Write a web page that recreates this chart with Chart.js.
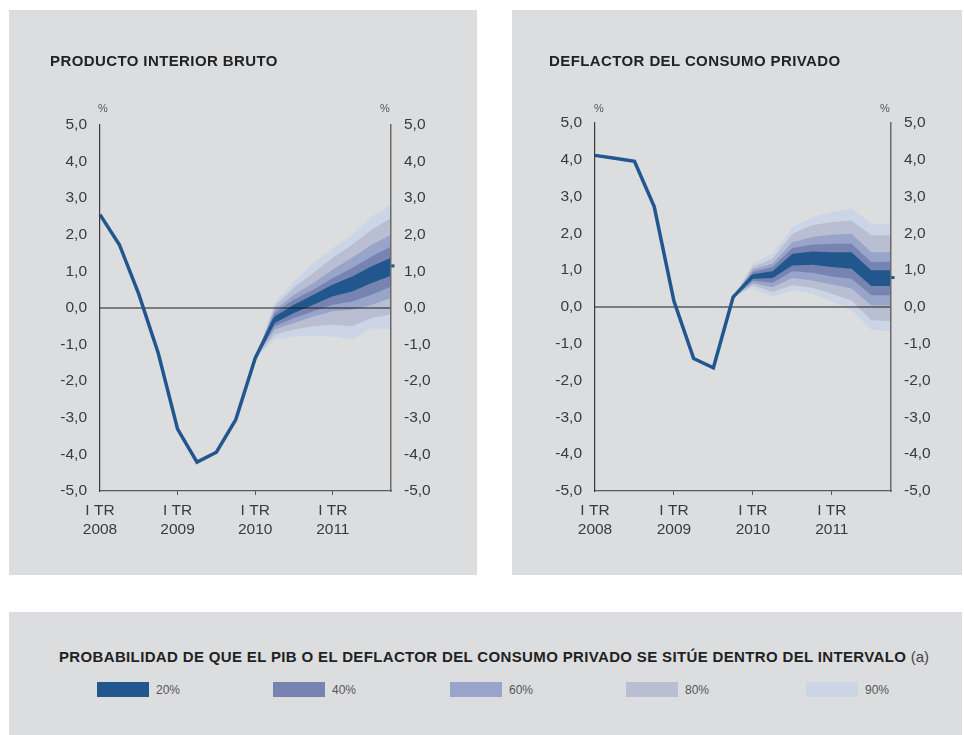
<!DOCTYPE html>
<html><head><meta charset="utf-8">
<script src="https://cdn.jsdelivr.net/npm/chart.js@4.4.1/dist/chart.umd.min.js"></script>
<style>
body{margin:0;background:#fff;width:964px;height:735px;position:relative;overflow:hidden;font-family:"Liberation Sans",Arial,sans-serif;}
.panel{position:absolute;background:#dcdddf;}
.title{position:absolute;font-size:15px;font-weight:bold;letter-spacing:0.4px;color:#222;white-space:nowrap;}
.pct{position:absolute;font-size:11px;color:#555;}
.panel canvas{position:absolute;left:0;top:0;}
.sw{position:absolute;width:52px;height:15px;}
.lab{position:absolute;font-size:12px;color:#555;}
</style></head>
<body>
<div class="panel" id="p1" style="left:9px;top:10px;width:468px;height:565px;">
  <canvas id="c1" width="468" height="565"></canvas>
  <div class="title" style="left:41px;top:42px;">PRODUCTO INTERIOR BRUTO</div>
  <div class="pct" style="left:89px;top:92px;">%</div>
  <div class="pct" style="left:371px;top:92px;">%</div>
</div>
<div class="panel" id="p2" style="left:512px;top:10px;width:450px;height:565px;">
  <canvas id="c2" width="450" height="565"></canvas>
  <div class="title" style="left:37px;top:42px;">DEFLACTOR DEL CONSUMO PRIVADO</div>
  <div class="pct" style="left:82px;top:92px;">%</div>
  <div class="pct" style="left:368px;top:92px;">%</div>
</div>
<div class="panel" style="left:9px;top:612px;width:953px;height:123px;">
  <div class="title" style="left:50px;top:36px;font-size:15px;letter-spacing:0.35px;">PROBABILIDAD DE QUE EL PIB O EL DEFLACTOR DEL CONSUMO PRIVADO SE SITÚE DENTRO DEL INTERVALO <span style="color:#444;font-weight:normal;letter-spacing:0">(a)</span></div>
  <div id="legend"></div>
</div>
<script>
// ---- categories / ticks ----
const xLabels = [['I TR','2008'],'','','',['I TR','2009'],'','','',['I TR','2010'],'','','',['I TR','2011'],'','',''];
const yTickLabels = ['-5,0','-4,0','-3,0','-2,0','-1,0','0,0','1,0','2,0','3,0','4,0','5,0'];
const bandNames = ['20%','40%','60%','80%','90%'];
const bandColors = ['#22578d','#7784b2','#98a4c9','#b9bed3','#ccd5e6'];
const lineColor = '#21578e';
const zeroRef = [0,0,0,0,0,0,0,0,0,0,0,0,0,0,0,0];

// ---- PIB ----
const N = null;
const pibHist = [2.55,1.73,0.38,-1.23,-3.31,-4.21,-3.94,-3.05,-1.37,-0.30,N,N,N,N,N,N];
const pibUp90 = [N,N,N,N,N,N,N,N,-1.37,0.14,0.73,1.23,1.64,2.00,2.50,2.82];
const pibUp80 = [N,N,N,N,N,N,N,N,-1.37,0.05,0.55,0.96,1.37,1.73,2.14,2.46];
const pibUp60 = [N,N,N,N,N,N,N,N,-1.37,-0.05,0.36,0.68,1.05,1.37,1.73,2.00];
const pibUp40 = [N,N,N,N,N,N,N,N,-1.37,-0.14,0.23,0.50,0.82,1.09,1.41,1.68];
const pibUp20 = [N,N,N,N,N,N,N,N,-1.37,-0.23,0.09,0.36,0.64,0.86,1.14,1.37];
const pibLo20 = [N,N,N,N,N,N,N,N,-1.37,-0.41,-0.14,0.09,0.32,0.45,0.68,0.88];
const pibLo40 = [N,N,N,N,N,N,N,N,-1.37,-0.50,-0.27,-0.09,0.09,0.18,0.36,0.59];
const pibLo60 = [N,N,N,N,N,N,N,N,-1.37,-0.59,-0.41,-0.23,-0.09,-0.05,0.09,0.27];
const pibLo80 = [N,N,N,N,N,N,N,N,-1.37,-0.73,-0.59,-0.50,-0.46,-0.50,-0.27,-0.18];
const pibLo90 = [N,N,N,N,N,N,N,N,-1.37,-0.87,-0.78,-0.78,-0.78,-0.87,-0.55,-0.59];
const pibEnd = [N,N,N,N,N,N,N,N,N,N,N,N,N,N,N,1.15];

// ---- Deflactor ----
const defHist = [4.12,4.04,3.96,2.73,0.16,-1.40,-1.65,0.27,0.84,N,N,N,N,N,N,N];
const defUp90 = [N,N,N,N,N,N,N,0.27,1.18,1.45,2.17,2.44,2.58,2.67,2.26,2.26];
const defUp80 = [N,N,N,N,N,N,N,0.27,1.09,1.31,1.99,2.22,2.31,2.35,1.95,1.95];
const defUp60 = [N,N,N,N,N,N,N,0.27,1.02,1.18,1.76,1.90,1.96,1.99,1.49,1.49];
const defUp40 = [N,N,N,N,N,N,N,0.27,0.95,1.09,1.60,1.69,1.72,1.72,1.22,1.23];
const defUp20 = [N,N,N,N,N,N,N,0.27,0.89,0.97,1.45,1.51,1.49,1.49,1.00,1.00];
const defLo20 = [N,N,N,N,N,N,N,0.27,0.77,0.79,1.13,1.15,1.09,1.04,0.57,0.57];
const defLo40 = [N,N,N,N,N,N,N,0.27,0.71,0.66,0.97,0.93,0.83,0.77,0.32,0.32];
const defLo60 = [N,N,N,N,N,N,N,0.27,0.65,0.54,0.79,0.72,0.61,0.50,0.05,0.05];
const defLo80 = [N,N,N,N,N,N,N,0.27,0.59,0.41,0.59,0.52,0.36,0.18,-0.36,-0.38];
const defLo90 = [N,N,N,N,N,N,N,0.27,0.50,0.27,0.45,0.36,0.15,-0.09,-0.63,-0.66];
const defEnd = [N,N,N,N,N,N,N,N,N,N,N,N,N,N,N,0.80];

function buildDatasets(hist, ups, los, endVals){
  const ds = [];
  ds.push({data: hist, borderColor: lineColor, borderWidth: 3.5, pointRadius: 0, fill: false, order: 0, borderJoinStyle: 'miter', tension: 0});
  ds.push({data: endVals, borderColor: lineColor, backgroundColor: lineColor, borderWidth: 3, pointStyle: 'line', pointRadius: 3.5, showLine: false, order: 0, clip: false});
  ds.push({data: zeroRef, borderColor: '#1a1a1a', borderWidth: 1, pointRadius: 0, fill: false, order: 0.5});
  for (let k = 0; k < ups.length; k++){
    const upIdx = ds.length;
    ds.push({data: ups[k], borderWidth: 0, borderColor: 'rgba(0,0,0,0)', pointRadius: 0, backgroundColor: bandColors[k], fill: upIdx + 1, order: k + 1, tension: 0});
    ds.push({data: los[k], borderWidth: 0, borderColor: 'rgba(0,0,0,0)', pointRadius: 0, fill: false, order: k + 1, tension: 0});
  }
  return ds;
}

function makeChart(id, datasets, dims){
  const tickFont = {family: '"Liberation Sans", Arial, sans-serif', size: 15.5};
  new Chart(document.getElementById(id), {
    type: 'line',
    data: {labels: xLabels, datasets: datasets},
    options: {
      responsive: false, animation: false,
      layout: {padding: {top: dims.top, left: 0, right: 0, bottom: 0}},
      plugins: {legend: {display: false}, tooltip: {enabled: false}},
      scales: {
        x: {
          type: 'category', offset: false,
          grid: {display: true, drawOnChartArea: false, drawTicks: true, tickLength: 4,
                 color: c => (c.index > 0 && xLabels[c.index] !== '') ? '#555' : 'rgba(0,0,0,0)', lineWidth: 1},
          border: {display: true, color: '#5a5a5a', width: 1.2},
          ticks: {autoSkip: false, maxRotation: 0, minRotation: 0, padding: 6, color: '#3a3a3a', font: Object.assign({lineHeight: 1.25}, tickFont)},
          afterFit: s => { s.height = dims.xh; }
        },
        y: {
          position: 'left', min: -5, max: 5,
          ticks: {stepSize: 1, padding: 13, color: '#3a3a3a', font: tickFont, callback: v => yTickLabels[Math.round(v) + 5]},
          grid: {display: false, drawTicks: false},
          border: {display: true, z: 1, color: '#3a3a3a', width: 1.2},
          afterFit: s => { s.width = dims.yl; }
        },
        y2: {
          position: 'right', min: -5, max: 5,
          ticks: {stepSize: 1, padding: 13, color: '#3a3a3a', font: tickFont, callback: v => yTickLabels[Math.round(v) + 5]},
          grid: {display: false, drawTicks: false},
          border: {display: true, z: 1, color: '#6a6a6a', width: 1.5},
          afterFit: s => { s.width = dims.yr; }
        }
      }
    }
  });
}

makeChart('c1', buildDatasets(pibHist,
  [pibUp20, pibUp40, pibUp60, pibUp80, pibUp90],
  [pibLo20, pibLo40, pibLo60, pibLo80, pibLo90], pibEnd),
  {top: 115, yl: 91, yr: 86, xh: 84});

makeChart('c2', buildDatasets(defHist,
  [defUp20, defUp40, defUp60, defUp80, defUp90],
  [defLo20, defLo40, defLo60, defLo80, defLo90], defEnd),
  {top: 113, yl: 83, yr: 71, xh: 84});

// legend
const legendX = [88, 264, 441, 617, 797];
const leg = document.getElementById('legend');
bandNames.forEach((n, i) => {
  const sw = document.createElement('div');
  sw.className = 'sw'; sw.style.left = legendX[i] + 'px'; sw.style.top = '70px'; sw.style.background = bandColors[i];
  leg.appendChild(sw);
  const lb = document.createElement('div');
  lb.className = 'lab'; lb.style.left = (legendX[i] + 59) + 'px'; lb.style.top = '71px'; lb.textContent = n;
  leg.appendChild(lb);
});
</script>
</body></html>
